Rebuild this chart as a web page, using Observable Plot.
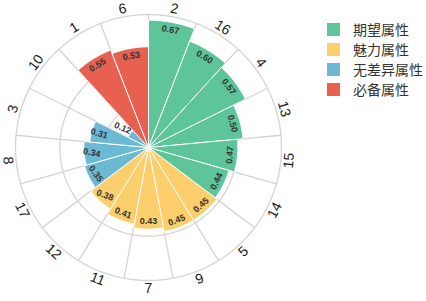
<!DOCTYPE html>
<html><head><meta charset="utf-8">
<script src="https://cdn.jsdelivr.net/npm/d3@7"></script>
<script src="https://cdn.jsdelivr.net/npm/@observablehq/plot@0.6"></script>
<style>
html,body{margin:0;padding:0;background:#fff;}
#wrap{position:relative;width:426px;height:301px;overflow:hidden;}
#chart{position:absolute;left:0;top:0;}
#chart svg{overflow:visible;}
#legend{position:absolute;left:327px;top:19px;font-family:"Noto Sans CJK SC","Noto Sans",sans-serif;font-size:14px;color:#333;}
.row{display:flex;align-items:center;height:20px;}
.sw{width:13px;height:13px;margin-right:13px;flex:none;}
</style></head><body><div id="wrap"><div id="chart"></div><div id="legend"></div></div>
<script>
const categories = ["2","16","4","13","15","14","5","9","7","11","12","17","8","3","10","1","6"];
const values = [0.67,0.60,0.57,0.50,0.47,0.44,0.45,0.45,0.43,0.41,0.38,0.35,0.34,0.31,0.12,0.55,0.53];
const types = ["期望属性","期望属性","期望属性","期望属性","期望属性","期望属性",
  "魅力属性","魅力属性","魅力属性","魅力属性","魅力属性",
  "无差异属性","无差异属性","无差异属性","无差异属性",
  "必备属性","必备属性"];
const typeNames = ["期望属性","魅力属性","无差异属性","必备属性"];
const typeColors = ["#5ec499","#fdcf6c","#6cb9d4","#e8604f"];
const rMax = 0.7;
const ringTicks = [0.7/3, 1.4/3, 0.7];

// style: label rotation overrides seen in the reference (left side)
const valueLabelRotate = {"12": 21, "17": 54, "8": 12, "3": 16, "10": 23};

const K = 100;
const n = categories.length;
const step = 360 / n;
const lonOf = a => 180 - a;
const rot = a => (a > 90 && a < 270) ? a - 180 : a;
const data = categories.map((c, i) => ({cat: c, value: values[i], type: types[i], a0: i * step, a1: (i + 1) * step, am: (i + 0.5) * step}));

function sector(d) {
  const lat = 90 - d.value * K;
  const coords = [[lonOf(d.a0), 90]];
  for (let t = 0; t <= 24; t++) {
    const a = d.a0 + (d.a1 - d.a0) * t / 24;
    coords.push([lonOf(a), lat]);
  }
  coords.push([lonOf(d.a0), 90]);
  const f = {type: "Feature", properties: d, geometry: {type: "Polygon", coordinates: [coords]}};
  if (d3.geoArea(f) > 2 * Math.PI) coords.reverse();
  return f;
}

const font = "'Liberation Sans', Arial, sans-serif";
const chart = Plot.plot({
  width: 296, height: 294,
  marginTop: 14, marginLeft: 15, marginRight: 15, marginBottom: 14,
  projection: {type: "azimuthal-equidistant", rotate: [0, -90], clip: false, domain: d3.geoCircle().center([0, 90]).radius(rMax * K)()},
  color: {domain: typeNames, range: typeColors},
  style: {fontFamily: font, background: "white", overflow: "visible"},
  marks: [
    Plot.geo(ringTicks, {geometry: r => d3.geoCircle().center([0, 90]).radius(r * K)(), stroke: "#d4d4d4", strokeWidth: 1.3, fill: "none", strokeOpacity: 1}),
    Plot.link(data, {x1: d => lonOf(d.a0), y1: 90, x2: d => lonOf(d.a0), y2: 90 - rMax * K, stroke: "#d4d4d4", strokeWidth: 1.3, strokeOpacity: 1}),
    Plot.geo(data.map(sector), {fill: d => d.properties.type, stroke: "white", strokeWidth: 1}),
    Plot.text(data, {x: d => lonOf(d.am), y: d => 90 - Math.max(d.value - 0.04, 0.17) * K, text: d => d.value.toFixed(2),
      rotate: d => valueLabelRotate[d.cat] ?? rot(d.am), fontSize: 9, fontWeight: "bold", fill: "#333"}),
    Plot.text(data, {x: d => lonOf(d.am), y: 90 - (rMax + 0.042) * K, text: "cat", rotate: d => rot(d.am), fontSize: 14, fill: "#1a1a1a"})
  ]
});
document.getElementById("chart").appendChild(chart);

const legend = document.getElementById("legend");
typeNames.forEach((name, i) => {
  const row = document.createElement("div");
  row.className = "row";
  const sw = document.createElement("div");
  sw.className = "sw";
  sw.style.background = typeColors[i];
  const lab = document.createElement("span");
  lab.textContent = name;
  row.appendChild(sw); row.appendChild(lab);
  legend.appendChild(row);
});
</script></body></html>
